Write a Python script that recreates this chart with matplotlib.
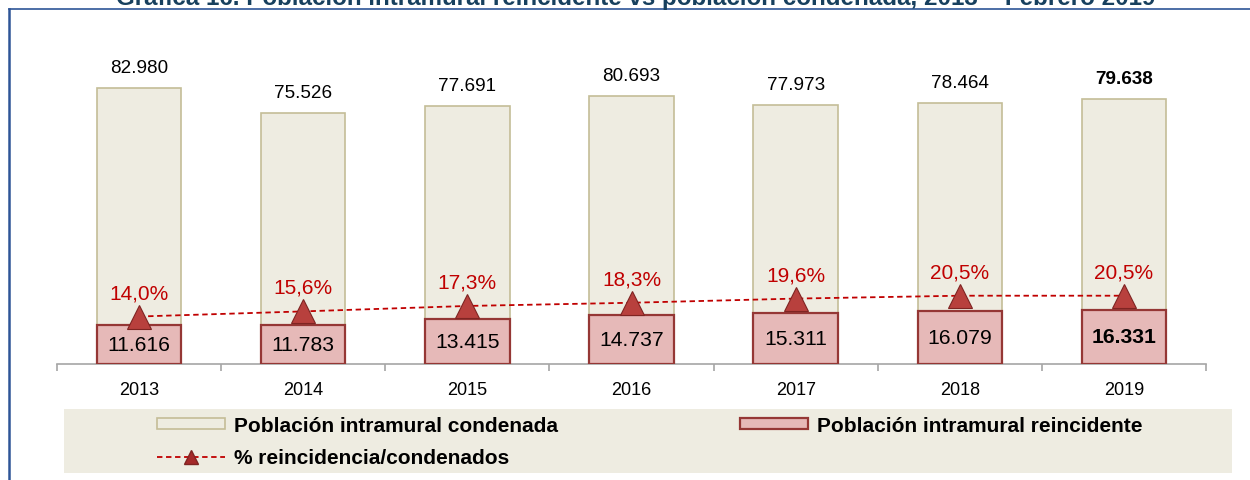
import matplotlib
matplotlib.use("Agg")
import matplotlib.pyplot as plt
from matplotlib.patches import Rectangle, Patch
from matplotlib.lines import Line2D
import numpy as np

plt.rcParams['font.family'] = ['Liberation Sans', 'DejaVu Sans']

years = ["2013", "2014", "2015", "2016", "2017", "2018", "2019"]
condenada = [82980, 75526, 77691, 80693, 77973, 78464, 79638]
reincidente = [11616, 11783, 13415, 14737, 15311, 16079, 16331]
pct = [14.0, 15.6, 17.3, 18.3, 19.6, 20.5, 20.5]

cond_labels = ["82.980", "75.526", "77.691", "80.693", "77.973", "78.464", "79.638"]
reinc_labels = ["11.616", "11.783", "13.415", "14.737", "15.311", "16.079", "16.331"]
pct_labels = ["14,0%", "15,6%", "17,3%", "18,3%", "19,6%", "20,5%", "20,5%"]

title = "Gráfica 16. Población intramural reincidente vs población condenada, 2013 – Febrero 2019"
leg_cond = "Población intramural condenada"
leg_reinc = "Población intramural reincidente"
leg_pct = "% reincidencia/condenados"

W, H = 1250, 481
fig = plt.figure(figsize=(W / 100, H / 100), dpi=100)

def fx(px):
    return px / W

def fy(py):
    return 1 - py / H

# outer frame
fig.add_artist(Line2D([fx(9), fx(9)], [fy(10), 0], color="#2E5597", lw=1.8))
fig.add_artist(Line2D([fx(9), 1], [fy(10), fy(10)], color="#2E5597", lw=1.2))

# title (cut off at top, as in the source)
fig.text(fx(636), fy(4.5), title, ha="center", va="baseline", fontsize=17.4,
         fontweight="bold", color="#17405E")

# axes
ax_left, ax_right = 57, 1206
ax_bot, ax_top = 365, 65.7
ax = fig.add_axes([fx(ax_left), fy(ax_bot), fx(ax_right - ax_left), (ax_bot - ax_top) / H])
ax.set_xlim(-0.5, 6.5)
ax.set_ylim(0, 90000)
x = np.arange(len(years))
bw = 0.515

ax.bar(x, condenada, width=bw, color="#EEECE1", edgecolor="#C4BD97", linewidth=1.2, zorder=2)
ax.bar(x, reincidente, width=bw, color="#E6B9B8", edgecolor="#953735", linewidth=1.6, zorder=3)

for i in range(len(years)):
    bold = "bold" if i == len(years) - 1 else "normal"
    ax.annotate(cond_labels[i], (x[i], condenada[i]), xytext=(0, 16), textcoords="offset pixels",
                ha="center", va="baseline", fontsize=13.6, fontweight=bold, color="black", zorder=5)
    ax.annotate(reinc_labels[i], (x[i], reincidente[i] / 2), xytext=(0, 0), textcoords="offset pixels",
                ha="center", va="center", fontsize=15.2, fontweight=bold, color="black", zorder=5)

for s in ["top", "right", "left"]:
    ax.spines[s].set_visible(False)
ax.spines["bottom"].set_color("#A6A6A6")
ax.spines["bottom"].set_linewidth(1.2)
ax.set_yticks([])
ax.set_xticks(x)
ax.set_xticklabels(years, fontsize=13)
ax.tick_params(axis="x", which="major", length=0, pad=12)
ax.set_xticks(np.arange(-0.5, 7, 1), minor=True)
ax.tick_params(axis="x", which="minor", length=5, width=1.2, color="#A6A6A6", direction="out")

# secondary axis for percentage
ax2 = ax.twinx()
k = 3.2  # px per percent
v0 = -0.84
ax2.set_ylim(v0, v0 + (ax_bot - ax_top) / k)
ax2.axis("off")
ax2.plot(x, pct, color="#C00000", lw=1.3, ls=(0, (3, 2)), marker="^", markersize=17,
         markerfacecolor="#B8403D", markeredgecolor="#7F2422", markeredgewidth=0.8, zorder=6)
for i in range(len(years)):
    ax2.annotate(pct_labels[i], (x[i], pct[i]), xytext=(0, 24), textcoords="offset pixels",
                 ha="center", va="center", fontsize=15, color="#C00000", zorder=7)

# legend background
fig.add_artist(Rectangle((fx(64), fy(474)), fx(1232 - 64), (474 - 410) / H,
                         facecolor="#EEECE1", edgecolor="none", zorder=0))

handles = [
    Patch(facecolor="#EEECE1", edgecolor="#C4BD97", linewidth=1.2, label=leg_cond),
    Line2D([], [], color="#C00000", lw=1.3, ls=(0, (3, 2)), marker="^", markersize=10,
           markerfacecolor="#A52A2A", markeredgecolor="#7F2422", label=leg_pct),
    Patch(facecolor="#E6B9B8", edgecolor="#953735", linewidth=1.6, label=leg_reinc),
]
leg = fig.legend(handles=handles, ncol=2, loc="upper left", bbox_to_anchor=(fx(157), fy(417)),
                 frameon=False, prop={"weight": "bold", "size": 15}, handlelength=3.27,
                 handleheight=0.48, handletextpad=0.41, columnspacing=8.75, labelspacing=0.64,
                 borderaxespad=0, borderpad=0)

fig.savefig("out.png", dpi=100)
